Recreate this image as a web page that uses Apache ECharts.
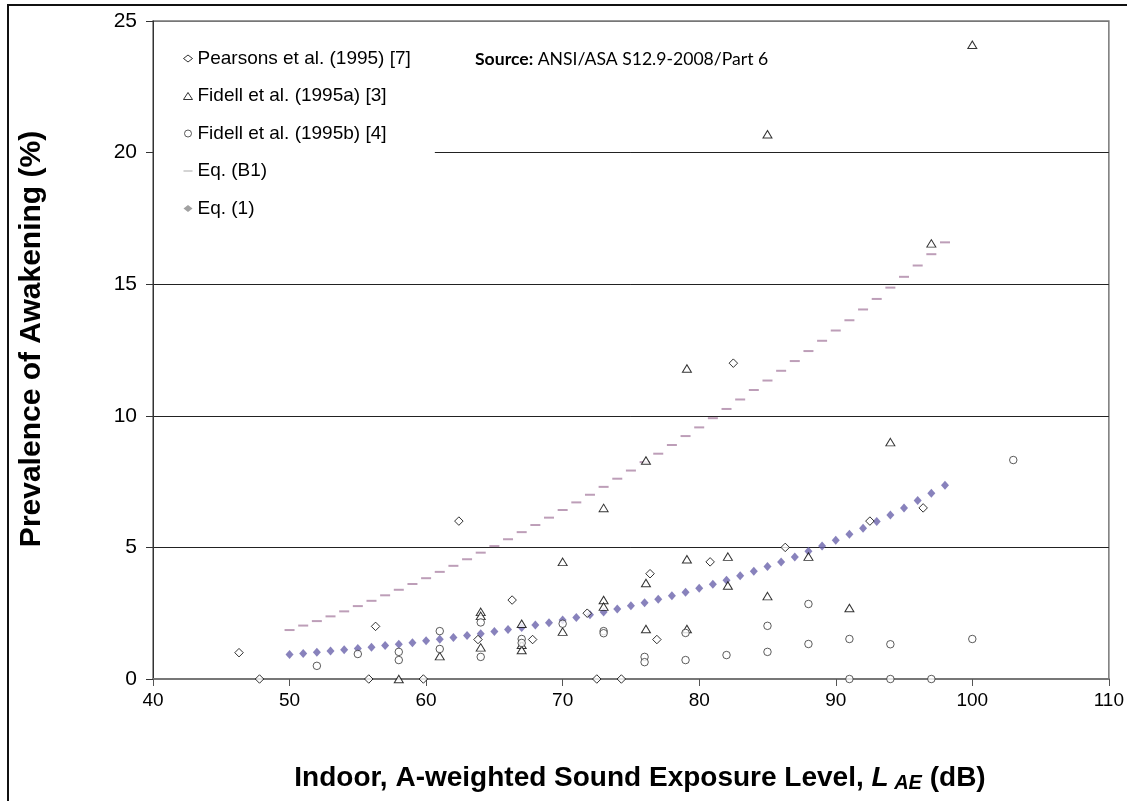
<!DOCTYPE html>
<html>
<head>
<meta charset="utf-8">
<script src="https://cdn.jsdelivr.net/npm/echarts@6.0.0/dist/echarts.min.js"></script>
<style>
html, body { margin: 0; padding: 0; background: #fff; }
#chart { width: 1127px; height: 801px; }
</style>
</head>
<body>
<div id="chart"></div>
<script>
// measured points, [LAE dB, % awakened]
var pearsons = [
  [46.3, 1.0], [47.8, 0], [55.8, 0], [56.3, 2.0], [59.8, 0], [62.4, 6.0],
  [63.8, 1.5], [66.3, 3.0], [67.8, 1.5], [71.8, 2.5], [72.5, 0], [74.3, 0],
  [76.4, 4.0], [76.9, 1.5], [80.8, 4.45], [82.5, 12.0], [86.3, 5.0],
  [92.5, 6.0], [96.4, 6.5]
]
var fidellA = [
  [58, 0], [61, 0.87], [64, 2.55], [64, 2.4], [64, 1.2], [67, 2.1], [67, 1.3],
  [67, 1.1], [70, 4.45], [70, 1.8], [73, 6.5], [73, 3.0], [73, 2.75],
  [76.1, 8.3], [76.1, 3.65], [76.1, 1.9], [79.1, 11.8], [79.1, 4.55],
  [79.1, 1.9], [82.1, 4.65], [82.1, 3.55], [85, 20.7], [85, 3.15], [88, 4.65],
  [91, 2.7], [94, 9.0], [97, 16.55], [100, 24.1]
]
var fidellB = [
  [52, 0.5], [55, 0.95], [58, 1.03], [58, 0.72], [61, 1.82], [61, 1.14],
  [64, 2.15], [64, 0.84], [67, 1.52], [67, 1.37], [70, 2.1], [73, 1.82],
  [73, 1.74], [76, 0.84], [76, 0.64], [79, 1.75], [79, 0.72], [82, 0.91],
  [85, 2.02], [85, 1.03], [88, 2.85], [88, 1.33], [91, 1.52], [91, 0],
  [94, 1.32], [94, 0], [97, 0], [100, 1.52], [103, 8.32]
]

// the two curves, read at every dB from 50 to 98
var curveLevels = [
  50, 51, 52, 53, 54, 55, 56, 57, 58, 59, 60, 61, 62, 63, 64, 65, 66,
  67, 68, 69, 70, 71, 72, 73, 74, 75, 76, 77, 78, 79, 80, 81, 82, 83,
  84, 85, 86, 87, 88, 89, 90, 91, 92, 93, 94, 95, 96, 97, 98
]
var eqB1 = [
  1.86, 2.03, 2.2, 2.38, 2.57, 2.77, 2.97, 3.18, 3.39, 3.61, 3.83, 4.07,
  4.3, 4.55, 4.8, 5.05, 5.31, 5.58, 5.85, 6.13, 6.42, 6.71, 7.0, 7.3,
  7.61, 7.92, 8.24, 8.56, 8.89, 9.23, 9.56, 9.91, 10.26, 10.62, 10.98,
  11.34, 11.71, 12.08, 12.46, 12.85, 13.24, 13.63, 14.04, 14.44, 14.87,
  15.28, 15.71, 16.14, 16.59
]
var eq1 = [
  0.93, 0.97, 1.02, 1.06, 1.11, 1.16, 1.21, 1.27, 1.32, 1.38, 1.45, 1.51,
  1.58, 1.65, 1.72, 1.8, 1.88, 1.96, 2.05, 2.14, 2.24, 2.34, 2.44, 2.55,
  2.66, 2.78, 2.9, 3.03, 3.16, 3.3, 3.45, 3.6, 3.75, 3.92, 4.09, 4.27,
  4.45, 4.64, 4.85, 5.05, 5.27, 5.5, 5.73, 5.98, 6.23, 6.5, 6.78, 7.06, 7.36
]

var xTicks = { min: 40, max: 110, step: 10 }
var yTicks = { min: 0, max: 25, step: 5 }

var font = '"Liberation Sans", Arial, sans-serif'
var hollow = { color: '#fff', borderColor: '#000', borderWidth: 1 }

var chart = echarts.init(document.getElementById('chart'))
var option = {
  animation: false,
  backgroundColor: '#fff',
  textStyle: { fontFamily: font },
  grid: {
    left: 153,
    top: 21,
    right: 18,
    bottom: 122,
    show: true,
    borderColor: '#777',
    borderWidth: 1.5
  },
  legend: {
    orient: 'vertical',
    left: 154,
    top: 23,
    padding: [26, 24, 14, 29],
    backgroundColor: '#fff',
    itemWidth: 9,
    itemHeight: 7,
    itemGap: 18.5,
    itemStyle: { borderWidth: 1 },
    textStyle: { fontSize: 19, color: '#000', fontFamily: font },
    data: [
      'Pearsons et al. (1995) [7]',
      'Fidell et al. (1995a) [3]',
      'Fidell et al. (1995b) [4]',
      { name: 'Eq. (B1)', icon: 'path://M0,0 L12,0 L12,1.4 L0,1.4 Z', itemStyle: { color: '#999', borderWidth: 0 } },
      { name: 'Eq. (1)', itemStyle: { color: '#8a8a8a', borderWidth: 0 } }
    ]
  },
  graphic: [
    {
      type: 'rect',
      shape: { x: 8, y: 5, width: 1300, height: 1000 },
      style: { fill: 'none', stroke: '#111', lineWidth: 2 },
      silent: true
    },
    {
      type: 'text',
      left: 475,
      top: 50,
      style: {
        text: '{b|Source:} ANSI/ASA S12.9-2008/Part 6',
        fontFamily: 'Lato, "Open Sans", sans-serif',
        fontSize: 17.6,
        fill: '#000',
        rich: {
          b: { fontWeight: 'bold', fontSize: 17.6, fontFamily: 'Lato, "Open Sans", sans-serif' }
        }
      }
    },
    {
      // y axis title
      type: 'text',
      x: 32,
      y: 339,
      rotation: Math.PI / 2,
      style: {
        text: 'Prevalence of Awakening (%)',
        fontSize: 30,
        fontWeight: 'bold',
        fontFamily: font,
        fill: '#000',
        align: 'center',
        verticalAlign: 'middle'
      }
    },
    {
      // x axis title
      type: 'text',
      x: 640,
      y: 778,
      style: {
        text: '{a|Indoor, A-weighted Sound Exposure Level, }{i|L}{s| AE}{a| (dB)}',
        align: 'center',
        verticalAlign: 'middle',
        rich: {
          a: { fontSize: 28, fontWeight: 'bold', fill: '#000', fontFamily: font },
          i: { fontSize: 28, fontWeight: 'bold', fontStyle: 'italic', fill: '#000', fontFamily: font },
          s: { fontSize: 20, fontWeight: 'bold', fontStyle: 'italic', fill: '#000', fontFamily: font, padding: [10, 0, 0, 0] }
        }
      }
    }
  ],
  xAxis: {
    type: 'value',
    min: xTicks.min,
    max: xTicks.max,
    interval: xTicks.step,
    axisLine: { lineStyle: { color: '#777', width: 2 } },
    axisTick: { show: true, inside: false, length: 7, lineStyle: { color: '#555' } },
    axisLabel: { fontSize: 19, color: '#000', margin: 12, fontFamily: font },
    splitLine: { show: false }
  },
  yAxis: {
    type: 'value',
    min: yTicks.min,
    max: yTicks.max,
    interval: yTicks.step,
    axisLine: { show: true, lineStyle: { color: '#333', width: 1 } },
    axisTick: { show: true, inside: false, length: 7, lineStyle: { color: '#333' } },
    axisLabel: { fontSize: 21, color: '#000', margin: 16, fontFamily: font },
    splitLine: {
      show: true,
      lineStyle: { color: ['#777', '#222', '#222', '#222', '#222', '#777'], width: 1 }
    }
  },
  series: [
    {
      name: 'Eq. (B1)',
      type: 'scatter',
      symbol: 'rect',
      symbolSize: [10, 2],
      itemStyle: { color: '#ad86a6' },
      data: curveLevels.map(function (x, i) { return [x, eqB1[i]] })
    },
    {
      name: 'Eq. (1)',
      type: 'scatter',
      symbol: 'diamond',
      symbolSize: [8, 9],
      itemStyle: { color: '#6a63ab' },
      data: curveLevels.map(function (x, i) { return [x, eq1[i]] })
    },
    {
      name: 'Pearsons et al. (1995) [7]',
      type: 'scatter',
      symbol: 'diamond',
      symbolSize: 8.5,
      itemStyle: hollow,
      data: pearsons
    },
    {
      name: 'Fidell et al. (1995a) [3]',
      type: 'scatter',
      symbol: 'triangle',
      symbolSize: [9, 7.5],
      itemStyle: hollow,
      data: fidellA
    },
    {
      name: 'Fidell et al. (1995b) [4]',
      type: 'scatter',
      symbol: 'circle',
      symbolSize: 7.5,
      itemStyle: { color: '#fff', borderColor: '#333', borderWidth: 1 },
      data: fidellB
    }
  ]
}
chart.setOption(option)
</script>
</body>
</html>
